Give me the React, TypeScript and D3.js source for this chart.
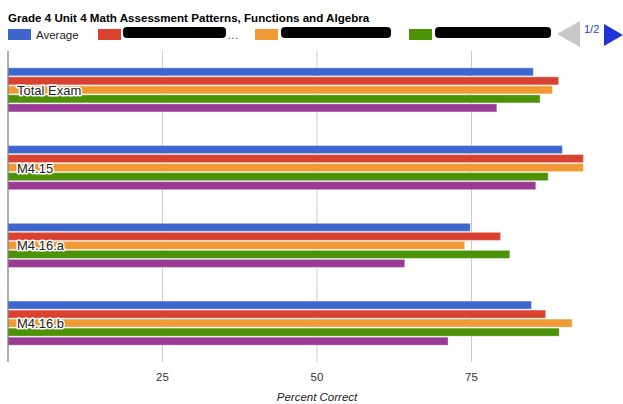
import React from "react";
import * as d3 from "d3";

const categories = ["Total Exam", "M4.15", "M4.16.a", "M4.16.b"];
const seriesNames = ["Average", "Teacher A", "Teacher B", "Teacher C", "Teacher D"];
const seriesColors = ["#3d66cf", "#d94130", "#f09a36", "#4c9206", "#993a95"];
const averageValues = [85, 89.7, 74.8, 84.7];
const teacherAValues = [89.1, 93.1, 79.7, 87];
const teacherBValues = [88.1, 93.1, 73.9, 91.3];
const teacherCValues = [86.1, 87.4, 81.2, 89.2];
const teacherDValues = [79.1, 85.4, 64.2, 71.2];
const xTicks = [25, 50, 75];
const legendShown = [0, 1, 2, 3];
const legendPager = "1/2";

const seriesValues = [averageValues, teacherAValues, teacherBValues, teacherCValues, teacherDValues];

const W = 623;
const H = 404;
const font = "'Liberation Sans', Arial, Helvetica, sans-serif";

export default function App() {
  const x = d3.scaleLinear().domain([0, 100]).range([8, 626]);
  const y = d3.scaleBand<string>().domain(categories).range([51, 362]).paddingInner(0).paddingOuter(0);
  const bw = y.bandwidth();
  const inner = d3
    .scaleBand<string>()
    .domain(seriesNames)
    .range([bw / 2 - 22.5, bw / 2 + 22.5])
    .paddingInner(0.11)
    .paddingOuter(0.05);

  const legendX = [8, 98, 255, 409];
  const boxes: [number, number][] = [[0, 0], [123, 226], [281, 391], [435, 551]];

  return (
    <svg width={W} height={H} style={{ position: "absolute", left: 0, top: 0, background: "#fff" }} fontFamily={font}>
      <text x={8} y={22} fontSize={11.6} fontWeight="bold" fill="#000">
        Grade 4 Unit 4 Math Assessment Patterns, Functions and Algebra
      </text>
      {legendShown.map((si, i) => (
        <g key={si}>
          <rect x={legendX[i]} y={29} width={23} height={11} fill={seriesColors[si]} />
          {i === 0 ? (
            <text x={legendX[i] + 28} y={39} fontSize={11.5} fill="#222">
              {seriesNames[si]}
            </text>
          ) : (
            <g>
              <text x={boxes[i][0] + 2} y={37.5} fontSize={11.5} fill="#666">
                {seriesNames[si]}
              </text>
              <rect x={boxes[i][0]} y={27} width={boxes[i][1] - boxes[i][0]} height={11} rx={4} fill="#000" />
              {i === 1 && (
                <text x={boxes[i][1] + 1} y={39} fontSize={11.5} fill="#444">
                  …
                </text>
              )}
            </g>
          )}
        </g>
      ))}
      <path d="M557,34 L580,21 L580,47 Z" fill="#c8c8c8" />
      <text x={584} y={33} fontSize={11} fill="#2a3ad0">
        {legendPager}
      </text>
      <path d="M604,24 L623,35 L604,46 Z" fill="#2034d6" />

      {xTicks.map((t) => (
        <g key={t}>
          <line x1={x(t)} x2={x(t)} y1={51} y2={362} stroke="#cccccc" strokeWidth={1} />
          <text x={x(t)} y={381} fontSize={11.5} textAnchor="middle" fill="#333">
            {t}
          </text>
        </g>
      ))}

      {categories.map((c, ci) => (
        <g key={c} transform={`translate(0,${y(c)})`}>
          {seriesNames.map((s, si) => (
            <rect
              key={s}
              x={x(0)}
              y={inner(s)}
              width={x(seriesValues[si][ci]) - x(0)}
              height={inner.bandwidth()}
              fill={seriesColors[si]}
              stroke="#ffffff"
              strokeOpacity={0.35}
              strokeWidth={1}
            />
          ))}
        </g>
      ))}

      <line x1={x(0)} x2={x(0)} y1={51} y2={362} stroke="#777" strokeWidth={1.2} />

      {categories.map((c) => (
        <text
          key={c}
          x={17}
          y={(y(c) as number) + bw / 2 + 5}
          fontSize={13}
          fill="#222"
          stroke="#fff"
          strokeWidth={3}
          paintOrder="stroke"
          strokeLinejoin="round"
        >
          {c}
        </text>
      ))}

      <text x={x(50)} y={401} fontSize={11.5} fontStyle="italic" textAnchor="middle" fill="#222">
        Percent Correct
      </text>
    </svg>
  );
}
